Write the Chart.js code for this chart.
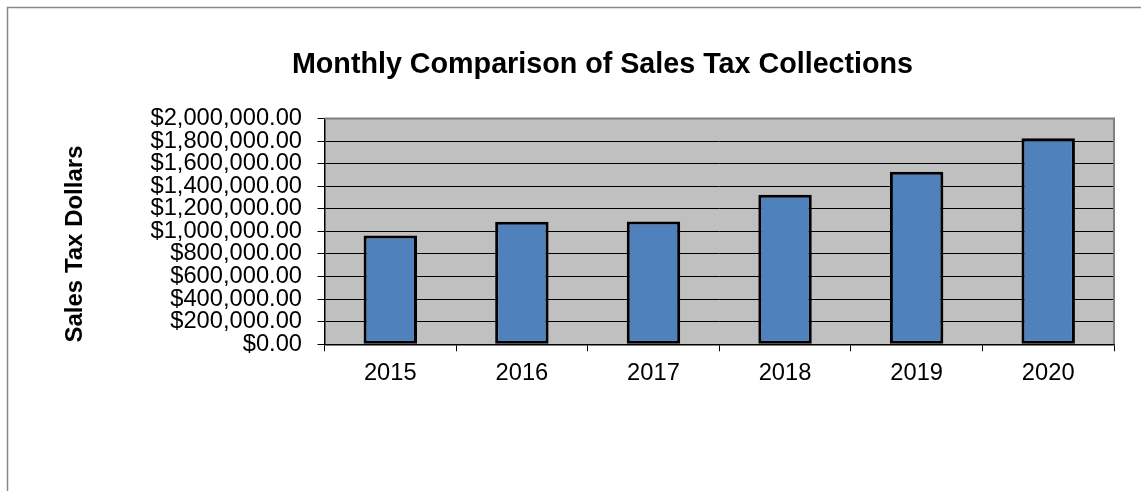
<!DOCTYPE html>
<html>
<head>
<meta charset="utf-8">
<script src="https://cdn.jsdelivr.net/npm/chart.js@4"></script>
<style>
  html, body { margin: 0; padding: 0; background: #fff; }
  #wrap { width: 1141px; height: 491px; position: relative; }
</style>
</head>
<body>
<div id="wrap"><canvas id="c" width="1141" height="491"></canvas></div>
<script>
const categories = ['2015', '2016', '2017', '2018', '2019', '2020'];
const salesTax = [963000, 1086000, 1087000, 1324000, 1527000, 1824000];
const yMin = 0;
const yMax = 2000000;
const yStep = 200000;
const chartTitle = 'Monthly Comparison of Sales Tax Collections';
const yTitle = 'Sales Tax Dollars';

const FONT = "'Liberation Sans', Arial, sans-serif";

const decor = {
  id: 'decor',
  beforeDraw(chart) {
    const { ctx, chartArea: a } = chart;
    ctx.save();
    ctx.fillStyle = '#fff';
    ctx.fillRect(0, 0, chart.width, chart.height);
    ctx.strokeStyle = '#888';
    ctx.lineWidth = 1.5;
    ctx.beginPath();
    ctx.moveTo(7.5, chart.height + 5);
    ctx.lineTo(7.5, 7.5);
    ctx.lineTo(chart.width + 5, 7.5);
    ctx.stroke();
    ctx.fillStyle = '#C0C0C0';
    ctx.fillRect(a.left, a.top, a.right - a.left, a.bottom - a.top);
    ctx.restore();
  },
  afterDatasetsDraw(chart) {
    const { ctx, chartArea: a } = chart;
    ctx.save();
    ctx.strokeStyle = '#808080';
    ctx.lineWidth = 2;
    ctx.beginPath();
    ctx.moveTo(a.left, a.top);
    ctx.lineTo(a.right, a.top);
    ctx.lineTo(a.right, a.bottom);
    ctx.stroke();
    ctx.restore();
  },
  afterDraw(chart) {
    const { ctx } = chart;
    ctx.save();
    ctx.translate(75.5, 244);
    ctx.rotate(-Math.PI / 2);
    ctx.font = 'bold 24px ' + FONT;
    ctx.fillStyle = '#000';
    ctx.textAlign = 'center';
    ctx.textBaseline = 'middle';
    ctx.fillText(yTitle, 0, 0);
    ctx.restore();
  }
};

new Chart(document.getElementById('c'), {
  type: 'bar',
  data: {
    labels: categories,
    datasets: [{
      data: salesTax,
      backgroundColor: '#4F81BD',
      borderColor: '#000',
      borderWidth: 3,
      borderSkipped: false,
      barPercentage: 0.406,
      categoryPercentage: 1.0
    }]
  },
  options: {
    responsive: false,
    devicePixelRatio: 1,
    animation: false,
    layout: { padding: { left: 91, right: 27, top: 0, bottom: 0 } },
    plugins: {
      legend: { display: false },
      tooltip: { enabled: false },
      title: {
        display: true,
        text: chartTitle,
        color: '#000',
        font: { family: FONT, size: 28.7, weight: 'bold', lineHeight: 1.2 },
        padding: { top: 48, bottom: 36 }
      }
    },
    scales: {
      x: {
        grid: {
          display: true,
          drawOnChartArea: false,
          drawTicks: true,
          tickLength: 7,
          tickColor: '#000',
          tickWidth: 1,
          offset: true
        },
        border: { display: true, color: '#000', width: 1.5 },
        ticks: {
          color: '#000',
          font: { family: FONT, size: 23.7 },
          padding: 7.7,
          maxRotation: 0
        },
        afterFit(scale) { scale.height = 146.7; }
      },
      y: {
        min: yMin,
        max: yMax,
        grid: {
          color: (c) => (c.tick && c.tick.value === yMax) ? '#808080' : '#000',
          lineWidth: 1,
          tickLength: 7,
          tickColor: '#000',
          drawTicks: true
        },
        border: { display: true, color: '#000', width: 1.5 },
        ticks: {
          stepSize: yStep,
          autoSkip: false,
          color: '#000',
          font: { family: FONT, size: 23.7 },
          padding: 15.5,
          callback: (v) => '$' + Number(v).toLocaleString('en-US', { minimumFractionDigits: 2, maximumFractionDigits: 2 })
        },
        afterFit(scale) { scale.width = 233.5; }
      }
    }
  },
  plugins: [decor]
});
</script>
</body>
</html>
